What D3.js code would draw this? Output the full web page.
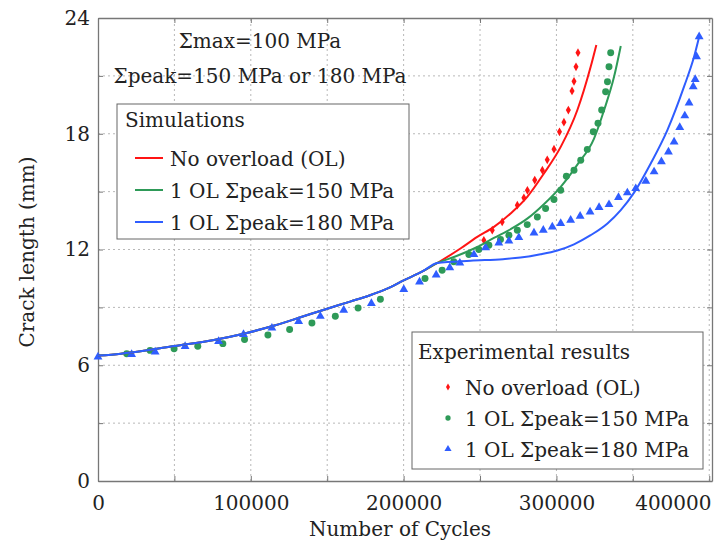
<!DOCTYPE html>
<html>
<head>
<meta charset="utf-8">
<script src="https://cdn.jsdelivr.net/npm/d3@7"></script>
<style>
  body { margin: 0; background: #fff; }
  text { font-family: "DejaVu Serif", serif; fill: #222; }
</style>
</head>
<body>
<script>
// Simulated crack growth, [cycles, crack length mm]
const simShared = [[0, 6.5], [15000, 6.6], [30000, 6.75], [50000, 7.0], [75000, 7.3],
  [96000, 7.65], [116000, 8.07], [133000, 8.5], [150000, 8.93], [165000, 9.3],
  [178000, 9.63], [190000, 10.0], [200000, 10.4], [212000, 10.85], [222000, 11.3]];
const simNoOL = [[237200, 12.05], [248200, 12.65], [259100, 13.17], [270000, 13.87],
  [280900, 14.73], [291800, 15.94], [302800, 17.32], [313700, 19.23], [322400, 21.47], [326100, 22.6]];
const simOL150 = [[232900, 11.61], [248200, 12.13], [259100, 12.6], [270000, 13.05],
  [280900, 13.6], [291800, 14.35], [302800, 15.25], [313700, 16.4], [324600, 17.75],
  [331200, 19.23], [337700, 20.95], [342100, 22.55]];
const simOL180 = [[243800, 11.42], [265000, 11.5], [276500, 11.58], [289600, 11.75],
  [300600, 11.95], [311500, 12.27], [322400, 12.74], [333400, 13.35], [342100, 14.04],
  [350800, 14.95], [361700, 16.46], [372600, 18.19], [383500, 20.44], [390100, 22.0], [393400, 23.03]];

// Experimental points
const expNoOL = [[252500, 12.48], [258000, 13.0], [264500, 13.43], [274400, 14.3], [278700, 14.68],
  [281000, 15.07], [285800, 15.6], [290800, 16.11], [294000, 16.65], [298400, 17.2],
  [302000, 18.1], [304900, 18.6], [307800, 19.23], [310200, 20.22], [311500, 20.72],
  [312800, 21.47], [314100, 22.2]];
const expOL150 = [[18800, 6.6], [34100, 6.77], [49800, 6.86], [65300, 6.98], [81700, 7.12],
  [95900, 7.33], [111200, 7.57], [125400, 7.85], [140000, 8.19], [155300, 8.54], [170200, 8.97],
  [184800, 9.42], [214000, 10.5], [225200, 10.92], [232800, 11.36], [242700, 11.74], [249200, 12.0],
  [255800, 12.22], [263400, 12.52], [268900, 12.74], [274400, 13.0], [280900, 13.29], [287500, 13.69],
  [292900, 14.13], [298400, 14.59], [302800, 15.07], [306500, 15.8], [311500, 16.11], [315900, 16.63],
  [320200, 17.19], [324100, 18.1], [327200, 18.54], [329600, 19.23], [332200, 20.18], [333400, 20.7],
  [334400, 21.47], [335500, 22.2]];
const expOL180 = [[0, 6.43], [22000, 6.56], [37400, 6.69], [57000, 6.98], [78900, 7.24],
  [95200, 7.6], [113800, 7.93], [131300, 8.27], [145500, 8.54], [160800, 8.86], [178900, 9.21],
  [200100, 9.93], [210400, 10.32], [221300, 10.68], [230200, 11.06], [236800, 11.3], [246000, 11.74],
  [253600, 12.1], [262300, 12.34], [268900, 12.44], [275400, 12.62], [285300, 12.86], [291400, 13.0],
  [297300, 13.17], [302800, 13.35], [309300, 13.52], [315500, 13.73], [322000, 13.95], [327900, 14.18],
  [334400, 14.33], [340600, 14.7], [346400, 14.94], [351900, 15.16], [358500, 15.54], [363900, 16.03],
  [368700, 16.55], [373300, 17.06], [377000, 17.58], [380700, 18.33], [384000, 18.93], [386800, 19.6],
  [389500, 20.44], [390800, 20.82], [391700, 22.0], [393400, 23.03]];

const seriesNames = ["No overload (OL)", "1 OL \u03A3peak=150 MPa", "1 OL \u03A3peak=180 MPa"];
const seriesColors = ["#ff1414", "#2e9a58", "#2f5dff"];
const xTicks = [0, 100000, 200000, 300000, 400000];
const xGrid = d3.range(0, 400001, 50000);
const yTicks = [0, 6, 12, 18, 24];
const yGrid = d3.range(0, 25, 3);

const width = 715;
const height = 545;
const margin = { top: 18, right: 3, bottom: 64, left: 98 };

const svg = d3.select("body").append("svg")
  .attr("width", width)
  .attr("height", height);

const x = d3.scaleLinear()
  .domain([0, 401800])
  .range([margin.left, width - margin.right]);

const y = d3.scaleLinear()
  .domain([0, 24])
  .range([height - margin.bottom, margin.top]);

// dotted grid
svg.append("g").selectAll("line.gx")
  .data(xGrid.filter(d => d > 0))
  .enter().append("line")
    .attr("x1", d => x(d)).attr("x2", d => x(d))
    .attr("y1", y(0)).attr("y2", y(24))
    .attr("stroke", "#b8b8b8")
    .attr("stroke-dasharray", "2,3");

svg.append("g").selectAll("line.gy")
  .data(yGrid.filter(d => d > 0 && d < 24))
  .enter().append("line")
    .attr("x1", x(0)).attr("x2", x.range()[1])
    .attr("y1", d => y(d)).attr("y2", d => y(d))
    .attr("stroke", "#b8b8b8")
    .attr("stroke-dasharray", "2,3");

// axes with inward ticks
const fmtX = d => xTicks.includes(d) ? d : "";
const fmtY = d => yTicks.includes(d) ? d : "";

const xAxis = svg.append("g")
  .attr("transform", `translate(0,${y(0)})`)
  .call(d3.axisBottom(x).tickValues(xGrid).tickSizeInner(-5).tickSizeOuter(0).tickPadding(15).tickFormat(fmtX));

// last label sits flush with the right edge, as in the figure
xAxis.selectAll(".tick text")
  .filter(d => d === 400000)
  .attr("text-anchor", "end")
  .attr("x", width - 4 - x(400000));

const yAxis = svg.append("g")
  .attr("transform", `translate(${x(0)},0)`)
  .call(d3.axisLeft(y).tickValues(yGrid).tickSizeInner(-5).tickSizeOuter(0).tickPadding(8).tickFormat(fmtY));

svg.append("g")
  .attr("transform", `translate(0,${y(24)})`)
  .call(d3.axisTop(x).tickValues(xGrid).tickSizeInner(-5).tickSizeOuter(0).tickFormat(""));

svg.append("g")
  .attr("transform", `translate(${x.range()[1]},0)`)
  .call(d3.axisRight(y).tickValues(yGrid).tickSizeInner(-5).tickSizeOuter(0).tickFormat(""));

svg.selectAll(".domain").attr("stroke", "#777").attr("stroke-width", 1.3);
svg.selectAll(".tick line").attr("stroke", "#777");
svg.selectAll(".tick text")
  .style("font-family", "DejaVu Serif")
  .style("font-size", "20px")
  .attr("fill", "#222");

// axis titles
svg.append("text")
  .attr("x", 400)
  .attr("y", 536)
  .attr("text-anchor", "middle")
  .style("font-size", "20px")
  .text("Number of Cycles");

svg.append("text")
  .attr("transform", "translate(34,252) rotate(-90)")
  .attr("text-anchor", "middle")
  .style("font-size", "20px")
  .text("Crack length (mm)");

// experimental markers
const symbols = [d3.symbolDiamond, d3.symbolCircle, d3.symbolTriangle];
const symSizes = [22, 38, 34];
[expNoOL, expOL150, expOL180].forEach((pts, i) => {
  svg.append("g").selectAll("path")
    .data(pts)
    .enter().append("path")
      .attr("d", d3.symbol().type(symbols[i]).size(symSizes[i]))
      .attr("transform", d => `translate(${x(d[0])},${y(d[1])})`)
      .attr("fill", seriesColors[i]);
});

// simulation lines
const line = d3.line()
  .x(d => x(d[0]))
  .y(d => y(d[1]))
  .curve(d3.curveMonotoneX);

[simNoOL, simOL150, simOL180].forEach((pts, i) => {
  svg.append("path")
    .datum(simShared.concat(pts))
    .attr("d", line)
    .attr("fill", "none")
    .attr("stroke", seriesColors[i])
    .attr("stroke-width", 2);
});

// load annotation
svg.append("text")
  .attr("x", 260).attr("y", 48)
  .attr("text-anchor", "middle")
  .style("font-size", "20px")
  .text("\u03A3max=100 MPa");

svg.append("text")
  .attr("x", 260).attr("y", 83)
  .attr("text-anchor", "middle")
  .style("font-size", "20px")
  .text("\u03A3peak=150 MPa or 180 MPa");

// simulations legend
const simLegend = svg.append("g");
simLegend.append("rect")
  .attr("x", 117).attr("y", 104)
  .attr("width", 292).attr("height", 135)
  .attr("fill", "#fff")
  .attr("stroke", "#666");
simLegend.append("text")
  .attr("x", 125).attr("y", 127)
  .style("font-size", "20px")
  .text("Simulations");
seriesNames.forEach((name, i) => {
  const ly = 158 + 32 * i;
  simLegend.append("line")
    .attr("x1", 135).attr("x2", 163)
    .attr("y1", ly).attr("y2", ly)
    .attr("stroke", seriesColors[i])
    .attr("stroke-width", 2);
  simLegend.append("text")
    .attr("x", 170).attr("y", ly + 7.5)
    .style("font-size", "20px")
    .text(name);
});

// experimental legend
const expLegend = svg.append("g");
expLegend.append("rect")
  .attr("x", 412).attr("y", 332)
  .attr("width", 291).attr("height", 137)
  .attr("fill", "#fff")
  .attr("stroke", "#666");
expLegend.append("text")
  .attr("x", 418).attr("y", 359)
  .style("font-size", "20px")
  .text("Experimental results");
const legSizes = [14, 22, 22];
seriesNames.forEach((name, i) => {
  const ly = 387 + 31 * i;
  expLegend.append("path")
    .attr("d", d3.symbol().type(symbols[i]).size(legSizes[i]))
    .attr("transform", `translate(448,${ly})`)
    .attr("fill", seriesColors[i]);
  expLegend.append("text")
    .attr("x", 465).attr("y", ly + 7.5)
    .style("font-size", "20px")
    .text(name);
});
</script>
</body>
</html>
